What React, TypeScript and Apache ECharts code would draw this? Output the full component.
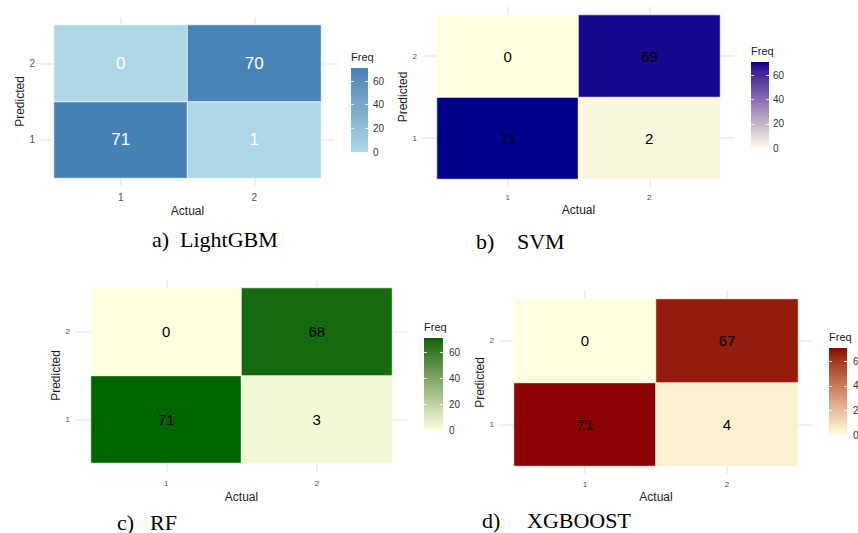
import React, { useEffect, useRef } from 'react';
import * as echarts from 'echarts';

// ---- data ----
const actualCategories = ['1', '2'];
const predictedCategories = ['1', '2'];
// cell order: [Actual1-Pred1, Actual1-Pred2, Actual2-Pred1, Actual2-Pred2]
const lightgbmFreq = [71, 0, 1, 70];
const svmFreq = [71, 0, 2, 69];
const rfFreq = [71, 0, 3, 68];
const xgboostFreq = [71, 0, 4, 67];
const legendTicks = [0, 20, 40, 60];
const legendInnerTicks = [20, 40, 60];
const captionLetters = ['a)', 'b)', 'c)', 'd)'];
const modelNames = ['LightGBM', 'SVM', 'RF', 'XGBOOST'];
const xAxisTitle = 'Actual';
const yAxisTitle = 'Predicted';
const legendTitle = 'Freq';

// ---- Lab colour interpolation (ggplot-like gradient) ----
function hexToRgb(h: string) {
  const n = parseInt(h.slice(1), 16);
  return [(n >> 16) & 255, (n >> 8) & 255, n & 255];
}
function srgbToLin(c: number) {
  c /= 255;
  return c <= 0.04045 ? c / 12.92 : Math.pow((c + 0.055) / 1.055, 2.4);
}
function linToSrgb(c: number) {
  const v = c <= 0.0031308 ? 12.92 * c : 1.055 * Math.pow(c, 1 / 2.4) - 0.055;
  return Math.max(0, Math.min(255, Math.round(v * 255)));
}
const Xn = 0.95047, Yn = 1, Zn = 1.08883;
function fLab(t: number) {
  return t > 216 / 24389 ? Math.cbrt(t) : (24389 / 27 * t + 16) / 116;
}
function fLabInv(t: number) {
  return t > 6 / 29 ? t * t * t : (116 * t - 16) / (24389 / 27);
}
function toLab(hex: string) {
  const [r, g, b] = hexToRgb(hex).map(srgbToLin);
  const X = 0.4124 * r + 0.3576 * g + 0.1805 * b;
  const Y = 0.2126 * r + 0.7152 * g + 0.0722 * b;
  const Z = 0.0193 * r + 0.1192 * g + 0.9505 * b;
  const fx = fLab(X / Xn), fy = fLab(Y / Yn), fz = fLab(Z / Zn);
  return [116 * fy - 16, 500 * (fx - fy), 200 * (fy - fz)];
}
function fromLab(lab: number[]) {
  const [L, a, b] = lab;
  const fy = (L + 16) / 116, fx = fy + a / 500, fz = fy - b / 200;
  const X = Xn * fLabInv(fx), Y = Yn * fLabInv(fy), Z = Zn * fLabInv(fz);
  const r = 3.2406 * X - 1.5372 * Y - 0.4986 * Z;
  const g = -0.9689 * X + 1.8758 * Y + 0.0415 * Z;
  const bb = 0.0557 * X - 0.204 * Y + 1.057 * Z;
  return '#' + [r, g, bb].map(linToSrgb).map((v) => v.toString(16).padStart(2, '0')).join('');
}
function labRamp(low: string, high: string, n: number) {
  const A = toLab(low), B = toLab(high);
  const out: string[] = [];
  for (let i = 0; i < n; i++) {
    const t = i / (n - 1);
    out.push(fromLab([0, 1, 2].map((k) => A[k] + (B[k] - A[k]) * t)));
  }
  return out;
}

// ---- layout / style ----
const SANS = '"Liberation Sans", Arial, sans-serif';
const SERIF = '"Liberation Serif", "Times New Roman", serif';

const panels = [
  {
    data: lightgbmFreq, low: '#ADD8E6', high: '#4682B4',
    grid: { left: 54, top: 25, width: 267, height: 153 },
    cellFont: 17, cellColor: '#ffffff', tickFont: 10,
    yLabelMargin: 19, xLabelMargin: 14, yNameGap: 27, xNameGap: 27,
    legend: { left: 351, top: 68, width: 17, height: 84, labelMargin: 5 },
    freqY: 58, captionY: 239, captionX: [152, 180],
  },
  {
    data: svmFreq, low: '#FFFFE0', high: '#00008B',
    grid: { left: 437, top: 15, width: 283, height: 164 },
    cellFont: 15, cellColor: '#000000', tickFont: 8,
    yLabelMargin: 20, xLabelMargin: 14, yNameGap: 27, xNameGap: 25,
    legend: { left: 751, top: 62, width: 18, height: 86, labelMargin: 4 },
    freqY: 52, captionY: 241, captionX: [476, 517],
  },
  {
    data: rfFreq, low: '#FFFFE0', high: '#006400',
    grid: { left: 91, top: 288, width: 301, height: 175 },
    cellFont: 15, cellColor: '#000000', tickFont: 8,
    yLabelMargin: 21, xLabelMargin: 16, yNameGap: 29, xNameGap: 28,
    legend: { left: 424, top: 338, width: 19, height: 92, labelMargin: 6 },
    freqY: 328, captionY: 522, captionX: [117, 150],
  },
  {
    data: xgboostFreq, low: '#FFFFE0', high: '#8B0000',
    grid: { left: 514, top: 299, width: 284, height: 167 },
    cellFont: 15, cellColor: '#000000', tickFont: 8,
    yLabelMargin: 20, xLabelMargin: 14, yNameGap: 26, xNameGap: 25,
    legend: { left: 829, top: 348, width: 18, height: 87, labelMargin: 6 },
    freqY: 338, captionY: 520, captionX: [482, 527],
  },
];

const GRID_LINE = '#EBEBEB';

export default function App() {
  const ref = useRef<HTMLDivElement>(null);

  useEffect(() => {
    document.body.style.margin = '0';
    if (!ref.current) return;
    const chart = echarts.init(ref.current, null, { renderer: 'svg' });

    const grids: any[] = [];
    const xAxes: any[] = [];
    const yAxes: any[] = [];
    const heatSeries: any[] = [];
    const barSeries: any[] = [];
    const visualMaps: any[] = [];
    const graphics: any[] = [];

    panels.forEach((p, i) => {
      grids[i] = { ...p.grid, containLabel: false, outerBoundsMode: 'none' };
      const extX = p.grid.height * 0.05;
      const extY = p.grid.width * 0.05;
      const tickStyle = { color: GRID_LINE, width: 1.5 };
      // bottom x axis
      xAxes[2 * i] = {
        type: 'category', gridIndex: i, data: actualCategories, position: 'bottom',
        axisLine: { show: false },
        axisTick: { show: true, alignWithLabel: true, interval: 0, length: extX, lineStyle: tickStyle },
        axisLabel: { interval: 0, margin: p.xLabelMargin, fontSize: p.tickFont, color: '#4D4D4D', fontFamily: SANS },
        splitLine: { show: false },
        name: xAxisTitle, nameLocation: 'middle', nameGap: p.xNameGap,
        nameTextStyle: { fontSize: 12, color: '#1A1A1A', fontFamily: SANS },
      };
      // top x axis (gridline extension only)
      xAxes[2 * i + 1] = {
        type: 'category', gridIndex: i, data: actualCategories, position: 'top',
        axisLine: { show: false },
        axisTick: { show: true, alignWithLabel: true, interval: 0, length: extX, lineStyle: tickStyle },
        axisLabel: { show: false }, splitLine: { show: false },
      };
      yAxes[2 * i] = {
        type: 'category', gridIndex: i, data: predictedCategories, position: 'left',
        axisLine: { show: false },
        axisTick: { show: true, alignWithLabel: true, interval: 0, length: extY, lineStyle: tickStyle },
        axisLabel: { interval: 0, margin: p.yLabelMargin, fontSize: p.tickFont, color: '#4D4D4D', fontFamily: SANS },
        splitLine: { show: false },
        name: yAxisTitle, nameLocation: 'middle', nameGap: p.yNameGap,
        nameTextStyle: { fontSize: 12, color: '#1A1A1A', fontFamily: SANS },
      };
      yAxes[2 * i + 1] = {
        type: 'category', gridIndex: i, data: predictedCategories, position: 'right',
        axisLine: { show: false },
        axisTick: { show: true, alignWithLabel: true, interval: 0, length: extY, lineStyle: tickStyle },
        axisLabel: { show: false }, splitLine: { show: false },
      };

      const cells: number[][] = [];
      actualCategories.forEach((_, ai) => {
        predictedCategories.forEach((__, pi) => {
          cells.push([ai, pi, p.data[ai * predictedCategories.length + pi]]);
        });
      });
      const maxVal = Math.max(...p.data);
      const minVal = 0;
      const ramp = labRamp(p.low, p.high, 21);

      heatSeries.push({
        type: 'heatmap', xAxisIndex: 2 * i, yAxisIndex: 2 * i, data: cells,
        itemStyle: { borderColor: 'rgba(255,255,255,0.75)', borderWidth: 1 },
        label: {
          show: true, fontSize: p.cellFont, color: p.cellColor, fontFamily: SANS,
          formatter: (q: any) => String(q.value[2]),
        },
        emphasis: { disabled: true },
        silent: true,
      });
      visualMaps.push({
        type: 'continuous', show: false, min: minVal, max: maxVal, dimension: 2,
        seriesIndex: i, inRange: { color: ramp },
      });

      // colour bar legend
      const lg = p.legend;
      grids[4 + i] = { left: lg.left, top: lg.top, width: lg.width, height: lg.height, containLabel: false, outerBoundsMode: 'none' };
      xAxes[8 + i] = {
        type: 'category', gridIndex: 4 + i, data: [legendTitle], show: false,
      };
      yAxes[8 + 2 * i] = {
        type: 'value', gridIndex: 4 + i, min: minVal, max: maxVal, position: 'right', z: 5,
        axisLine: { show: false }, splitLine: { show: false },
        axisTick: { show: true, inside: true, length: 3, customValues: legendInnerTicks, lineStyle: { color: 'rgba(255,255,255,0.8)', width: 1 } },
        axisLabel: { customValues: legendTicks, margin: lg.labelMargin, fontSize: 10, color: '#333333', fontFamily: SANS },
      };
      yAxes[9 + 2 * i] = {
        type: 'value', gridIndex: 4 + i, min: minVal, max: maxVal, position: 'left', z: 5,
        axisLine: { show: false }, splitLine: { show: false },
        axisTick: { show: true, inside: true, length: 3, customValues: legendInnerTicks, lineStyle: { color: 'rgba(255,255,255,0.8)', width: 1 } },
        axisLabel: { show: false },
      };
      const stops = ramp.map((c, k) => ({ offset: 1 - k / (ramp.length - 1), color: c })).reverse();
      barSeries.push({
        type: 'bar', xAxisIndex: 8 + i, yAxisIndex: 8 + 2 * i, data: [maxVal],
        barWidth: '100%', silent: true,
        itemStyle: { color: new echarts.graphic.LinearGradient(0, 0, 0, 1, stops) },
      });

      graphics.push({
        type: 'text', left: lg.left, top: p.freqY - 7,
        style: { text: legendTitle, fontSize: 11, fill: '#1A1A1A', fontFamily: SANS },
      });
      graphics.push({
        type: 'text', x: p.captionX[0], y: p.captionY,
        style: { text: captionLetters[i], fontSize: 22, fill: '#000', fontFamily: SERIF, verticalAlign: 'middle', align: 'left' },
      });
      graphics.push({
        type: 'text', x: p.captionX[1], y: p.captionY,
        style: { text: modelNames[i], fontSize: 22, fill: '#000', fontFamily: SERIF, verticalAlign: 'middle', align: 'left' },
      });
    });

    chart.setOption({
      animation: false,
      backgroundColor: '#ffffff',
      grid: grids,
      xAxis: xAxes,
      yAxis: yAxes,
      visualMap: visualMaps,
      series: [...heatSeries, ...barSeries],
      graphic: graphics,
    });

    return () => chart.dispose();
  }, []);

  return (
    <div
      ref={ref}
      style={{ position: 'absolute', left: 0, top: 0, width: 858, height: 533 }}
    />
  );
}
